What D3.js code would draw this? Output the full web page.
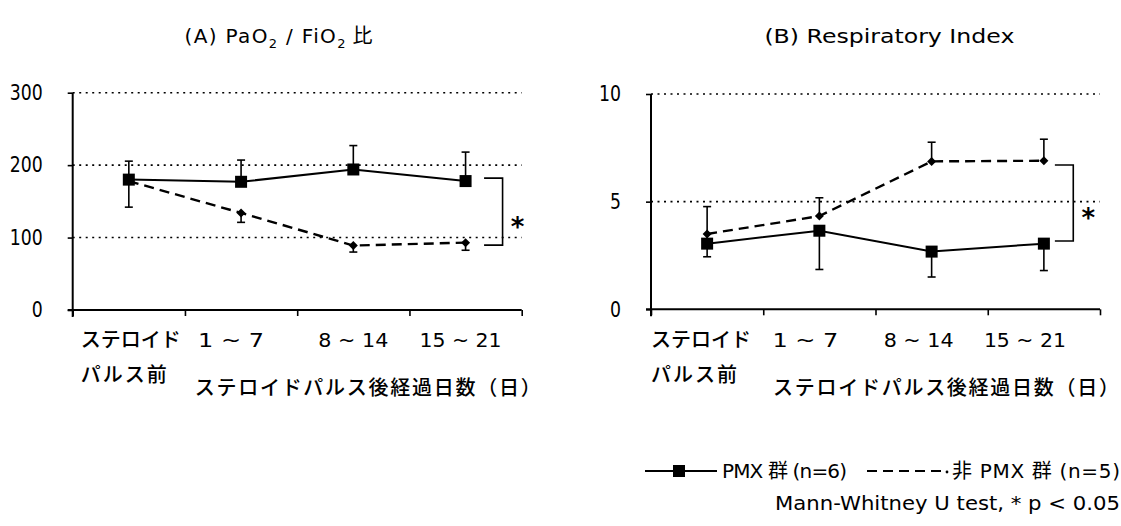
<!DOCTYPE html>
<html><head><meta charset="utf-8">
<script src="https://cdn.jsdelivr.net/npm/d3@7/dist/d3.min.js"></script>
<style>
html,body{margin:0;padding:0;background:#fff;}
svg{display:block;}
.lat{font-family:"DejaVu Sans","Noto Sans CJK JP",sans-serif;}
.jp{font-family:"Noto Sans CJK JP","DejaVu Sans",sans-serif;font-weight:500;}
</style></head><body>
<svg id="c" width="1121" height="526"></svg>
<script>
// ---------- data ----------
const categories = ["ステロイドパルス前","1 ~ 7","8 ~ 14","15 ~ 21"];
const catLine1 = ["ステロイド","1 ~ 7","8 ~ 14","15 ~ 21"];
const catLine2 = ["パルス前","","",""];
const xAxisTitle = "ステロイドパルス後経過日数（日）";
const seriesNames = [["PMX ","群"," (n=6)"],["","非"," PMX ","群"," (n=5)"]];
const testNote = "Mann-Whitney U test, * p < 0.05";

// (A) PaO2/FiO2
const pfTicks = [0,100,200,300];
const pfPMX = [180,177,194,178];
const pfPMXUpper = [205.5,207,227,218];
const pfPMXLower = [142,null,null,null];
const pfNon = [178,134,89,93];
const pfNonUpper = [null,null,null,null];
const pfNonLower = [null,121,80,82.5];
const pfBracket = [182,89.5];

// (B) Respiratory Index
const riTicks = [0,5,10];
const riPMX = [3.05,3.65,2.68,3.05];
const riPMXUpper = [4.77,null,null,null];
const riPMXLower = [2.44,1.85,1.5,1.8];
const riNon = [3.5,4.33,6.87,6.9];
const riNonUpper = [null,5.18,7.76,7.9];
const riNonLower = [null,null,null,null];
const riBracket = [6.7,3.17];

// ---------- layout ----------
const CH = 11; // half-width character advance
const panels = [
  {x0:72.7,x1:521.7,yTop:92.7,yBot:310,domain:[0,300],ticks:pfTicks,
   pmx:pfPMX,pmxU:pfPMXUpper,pmxL:pfPMXLower,non:pfNon,nonU:pfNonUpper,nonL:pfNonLower,br:pfBracket,
   brL:18.5,brR:37,labDx:[8,-10,0,-5],titleX:184.6,titleLen:188,title:"A"},
  {x0:651,x1:1100,yTop:94,yBot:309.3,domain:[0,10],ticks:riTicks,
   pmx:riPMX,pmxU:riPMXUpper,pmxL:riPMXLower,non:riNon,nonU:riNonUpper,nonL:riNonLower,br:riBracket,
   brL:11,brR:29.4,labDx:[0,-14,-13,-19],titleX:764.4,titleLen:250,title:"B"}
];

const svg = d3.select("#c");

panels.forEach(p=>{
  const g = svg.append("g");
  const x = d3.scaleBand().domain(categories).range([p.x0,p.x1]).padding(0);
  const xb = d3.scaleLinear().domain([0,categories.length]).range([p.x0,p.x1]);
  const y = d3.scaleLinear().domain(p.domain).range([p.yBot,p.yTop]);
  const cx = c => x(c)+x.bandwidth()/2;

  // title
  const TY = 43;
  if(p.title==="A"){
    const t = g.append("text").attr("class","lat").attr("x",p.titleX).attr("y",TY)
      .attr("font-size",20).attr("textLength",p.titleLen).attr("lengthAdjust","spacing");
    t.append("tspan").text("(A) PaO");
    t.append("tspan").attr("font-size",13).attr("dy",5).text("2");
    t.append("tspan").attr("dy",-5).text(" / FiO");
    t.append("tspan").attr("font-size",13).attr("dy",5).text("2");
    t.append("tspan").attr("dy",-5).attr("font-family","Noto Sans CJK JP").text(" 比");
  } else {
    g.append("text").attr("class","lat").attr("x",p.titleX).attr("y",TY)
      .attr("font-size",20).attr("textLength",p.titleLen).attr("lengthAdjust","spacingAndGlyphs")
      .text("(B)  Respiratory Index");
  }

  // gridlines
  g.selectAll(".grid").data(p.ticks.filter(v=>v>0)).join("line")
    .attr("x1",p.x0).attr("x2",p.x1).attr("y1",d=>y(d)).attr("y2",d=>y(d))
    .attr("stroke","#000").attr("stroke-width",1.6).attr("stroke-dasharray","2,4.5");

  // y axis
  const ya = g.append("g").attr("transform",`translate(${p.x0},0)`)
    .call(d3.axisLeft(y).tickValues(p.ticks).tickSize(5).tickPadding(25).tickSizeOuter(0));
  ya.select(".domain").remove();
  ya.selectAll(".tick line").attr("stroke-width",1.6);
  ya.selectAll("text").attr("class","lat").attr("font-size",21).attr("fill","#000")
    .attr("textLength",d=>String(d).length*CH).attr("lengthAdjust","spacingAndGlyphs");
  g.append("line").attr("x1",p.x0).attr("x2",p.x0).attr("y1",y(p.domain[1])).attr("y2",p.yBot+7)
    .attr("stroke","#000").attr("stroke-width",2);

  // x axis
  const xa = g.append("g").attr("transform",`translate(0,${p.yBot})`)
    .call(d3.axisBottom(xb).ticks(categories.length).tickFormat("").tickSize(6).tickSizeOuter(0));
  xa.select(".domain").remove();
  xa.selectAll(".tick line").attr("stroke-width",1.6);
  g.append("line").attr("x1",p.x0-5).attr("x2",p.x1).attr("y1",p.yBot).attr("y2",p.yBot)
    .attr("stroke","#000").attr("stroke-width",2);

  // category labels
  catLine1.forEach((lab,i)=>{
    const t = g.append("text").attr("y",347).attr("fill","#000");
    if(i===0){
      t.attr("class","jp").attr("x",p.x0+p.labDx[0]).attr("font-size",20)
       .attr("textLength",100).attr("lengthAdjust","spacing").text(lab);
    } else {
      t.attr("class","lat").attr("x",cx(categories[i])+p.labDx[i]).attr("text-anchor","middle")
       .attr("font-size",20).attr("textLength",[0,66,70,82][i]).attr("lengthAdjust","spacingAndGlyphs").text(lab);
    }
  });
  catLine2.forEach((lab,i)=>{
    if(!lab) return;
    g.append("text").attr("class","jp").attr("x",p.x0+p.labDx[0]).attr("y",382)
      .attr("font-size",20).attr("textLength",86).attr("lengthAdjust","spacing").text(lab);
  });
  g.append("text").attr("class","jp").attr("x",p.x0+122).attr("y",395)
    .attr("font-size",20).attr("textLength",346).attr("lengthAdjust","spacing").text(xAxisTitle);

  // error bars
  function errBars(means,errs){
    const d = categories.map((c,i)=>({c,m:means[i],e:errs[i]})).filter(o=>o.e!=null);
    g.selectAll(null).data(d).join("line")
      .attr("x1",o=>cx(o.c)).attr("x2",o=>cx(o.c)).attr("y1",o=>y(o.m)).attr("y2",o=>y(o.e))
      .attr("stroke","#000").attr("stroke-width",1.6);
    g.selectAll(null).data(d).join("line")
      .attr("x1",o=>cx(o.c)-4).attr("x2",o=>cx(o.c)+4).attr("y1",o=>y(o.e)).attr("y2",o=>y(o.e))
      .attr("stroke","#000").attr("stroke-width",1.6);
  }
  errBars(p.pmx,p.pmxU); errBars(p.pmx,p.pmxL);
  errBars(p.non,p.nonU); errBars(p.non,p.nonL);

  // lines
  const line = d3.line().x((d,i)=>cx(categories[i])).y(d=>y(d));
  g.append("path").attr("d",line(p.non)).attr("fill","none").attr("stroke","#000")
    .attr("stroke-width",2.4).attr("stroke-dasharray","10,6");
  g.append("path").attr("d",line(p.pmx)).attr("fill","none").attr("stroke","#000")
    .attr("stroke-width",2);

  // markers
  g.selectAll(null).data(p.non).join("path")
    .attr("d",(d,i)=>{const X=cx(categories[i]),Y=y(d),r=4.5;return `M${X},${Y-r}L${X+r},${Y}L${X},${Y+r}L${X-r},${Y}Z`;})
    .attr("fill","#000");
  g.selectAll(null).data(p.pmx).join("rect")
    .attr("x",(d,i)=>cx(categories[i])-6).attr("y",d=>y(d)-6).attr("width",12).attr("height",12)
    .attr("fill","#000");

  // significance bracket
  const last = categories[categories.length-1];
  const bl = cx(last)+p.brL, br = cx(last)+p.brR;
  g.append("path").attr("d",`M${bl},${y(p.br[0])}H${br}V${y(p.br[1])}H${bl}`)
    .attr("fill","none").attr("stroke","#000").attr("stroke-width",1.6);
  g.append("text").attr("x",br+15).attr("y",(y(p.br[0])+y(p.br[1]))/2+24)
    .attr("text-anchor","middle").attr("font-family","DejaVu Sans").attr("font-weight","bold")
    .attr("font-size",26).text("*");
});

// ---------- legend ----------
const LY = 471;
const lg = svg.append("g");
function legendText(parts,x0,len){
  const t = lg.append("text").attr("x",x0).attr("y",LY+7).attr("font-size",20)
    .attr("textLength",len).attr("lengthAdjust","spacing");
  parts.forEach(s=>{
    if(!s) return;
    const cjk = /[\u3000-\u9fff]/.test(s);
    t.append("tspan").attr("font-family",cjk?"Noto Sans CJK JP":"DejaVu Sans").text(s);
  });
}
lg.append("line").attr("x1",645).attr("x2",717).attr("y1",LY).attr("y2",LY).attr("stroke","#000").attr("stroke-width",2);
lg.append("rect").attr("x",673).attr("y",LY-6).attr("width",12).attr("height",12).attr("fill","#000");
legendText(seriesNames[0],722,125);
lg.append("line").attr("x1",867).attr("x2",942).attr("y1",LY).attr("y2",LY).attr("stroke","#000")
  .attr("stroke-width",2).attr("stroke-dasharray","10,6");
lg.append("circle").attr("cx",947).attr("cy",LY+1).attr("r",1.4).attr("fill","#000");
legendText(seriesNames[1],952,168);
lg.append("text").attr("class","lat").attr("x",775).attr("y",LY+39).attr("font-size",20)
  .attr("textLength",345).attr("lengthAdjust","spacingAndGlyphs").text(testNote);
</script></body></html>
